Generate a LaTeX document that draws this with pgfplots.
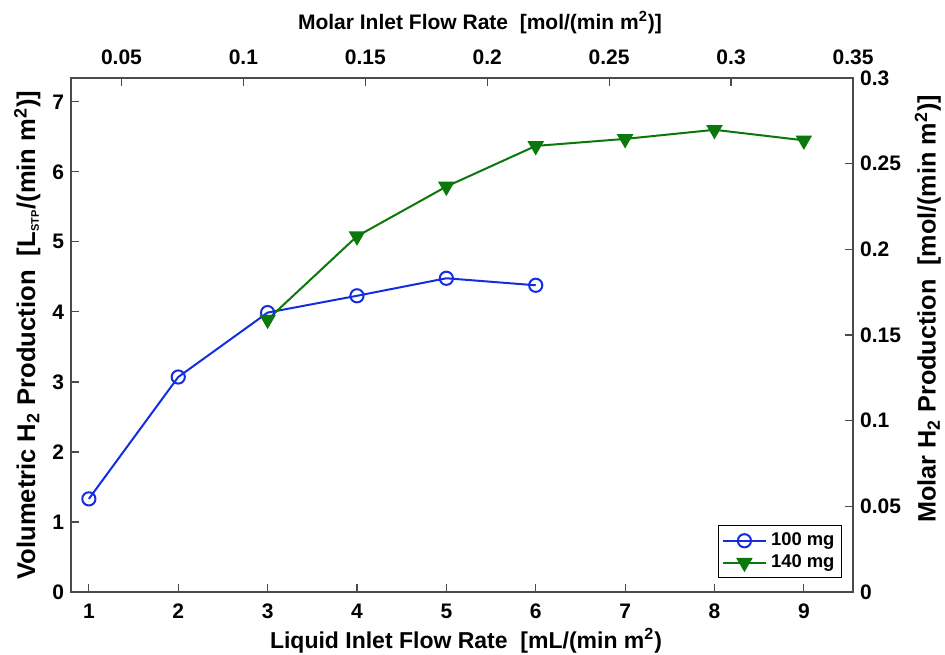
\documentclass[border=0pt]{standalone}
\usepackage{fontspec}
\setmainfont{Liberation Sans}
\usepackage{pgfplots}
\pgfplotsset{compat=1.18}
\definecolor{mblue}{RGB}{20,45,225}
\definecolor{mgreen}{RGB}{10,120,10}
\definecolor{axgray}{RGB}{75,75,75}
\begin{document}
\begin{tikzpicture}
\begin{axis}[
  name=a1,
  scale only axis, width=391pt, height=257pt,
  xmin=0.8, xmax=9.55, ymin=0, ymax=7.34,
  xtick={1,2,3,4,5,6,7,8,9}, ytick={0,1,2,3,4,5,6,7},
  xtick pos=bottom, ytick pos=left,
  tick align=inside, major tick length=4pt,
  axis line style={axgray, line width=0.6pt},
  tick style={axgray, line width=0.6pt},
  /pgf/number format/assume math mode=true,
  x tick label style={font=\bfseries\fontsize{10.5}{12}\selectfont, yshift=-2.5pt},
  y tick label style={font=\bfseries\fontsize{10.5}{12}\selectfont},
  xlabel={Liquid Inlet Flow Rate\ \ [mL/(min m\textsuperscript{2})},
  xlabel style={font=\bfseries\fontsize{11.5}{13}\selectfont, yshift=2pt, xshift=2pt},
  ylabel={Volumetric H\textsubscript{2} Production\ \ [L\textsubscript{\fontsize{5.5}{6}\selectfont STP}/(min m\textsuperscript{2})]},
  ylabel style={font=\bfseries\fontsize{12.8}{14}\selectfont, yshift=-1pt},
  legend style={at={(0.986,0.027)}, anchor=south east,
    font=\bfseries\fontsize{9.2}{10}\selectfont, draw=black, line width=0.6pt,
    inner sep=1.5pt, row sep=-1pt},
  legend image code/.code={\draw[mark repeat=2,mark phase=2] plot coordinates {(0cm,0cm) (0.38cm,0cm) (0.76cm,0cm)};},
  legend cell align=left,
]
\addplot[mblue, line width=1pt, mark=o, mark size=3.3pt, mark options={line width=1pt}]
  coordinates {(1,1.33) (2,3.07) (3,3.99) (4,4.23) (5,4.48) (6,4.38)};
\addlegendentry{100 mg}
\addplot[mgreen, line width=1pt, mark=triangle*, mark size=3.8pt, mark options={rotate=180, fill=mgreen}]
  coordinates {(3,3.89) (4,5.08) (5,5.79) (6,6.37) (7,6.47) (8,6.60) (9,6.45)};
\addlegendentry{140 mg}
\end{axis}
\begin{axis}[
  scale only axis, width=391pt, height=257pt,
  xmin=0.0293, xmax=0.35, ymin=0, ymax=0.3,
  axis x line*=top, axis y line*=right,
  xtick={0.05,0.1,0.15,0.2,0.25,0.3,0.35},
  xticklabels={0.05,0.1,0.15,0.2,0.25,0.3,0.35},
  ytick={0,0.05,0.1,0.15,0.2,0.25,0.3},
  yticklabels={0,0.05,0.1,0.15,0.2,0.25,0.3},
  tick align=inside, major tick length=4pt,
  axis line style={axgray, line width=0.6pt, -},
  tick style={axgray, line width=0.6pt},
  x tick label style={font=\bfseries\fontsize{10.5}{12}\selectfont, yshift=3pt},
  y tick label style={font=\bfseries\fontsize{10.5}{12}\selectfont},
  xlabel={Molar Inlet Flow Rate\ \ [mol/(min m\textsuperscript{2})]},
  xlabel style={font=\bfseries\fontsize{10.5}{12}\selectfont, yshift=1pt, xshift=9pt},
  ylabel={Molar H\textsubscript{2} Production\ \ [mol/(min m\textsuperscript{2})]},
  ylabel style={font=\bfseries\fontsize{12.6}{14}\selectfont, xshift=13pt},
]
\addplot[draw=none] coordinates {(0.1,0.1)};
\end{axis}
\pgfresetboundingbox
\path ([shift={(-35.5pt,-31pt)}]a1.south west) rectangle ([shift={(46pt,39pt)}]a1.north east);
\end{tikzpicture}
\end{document}
